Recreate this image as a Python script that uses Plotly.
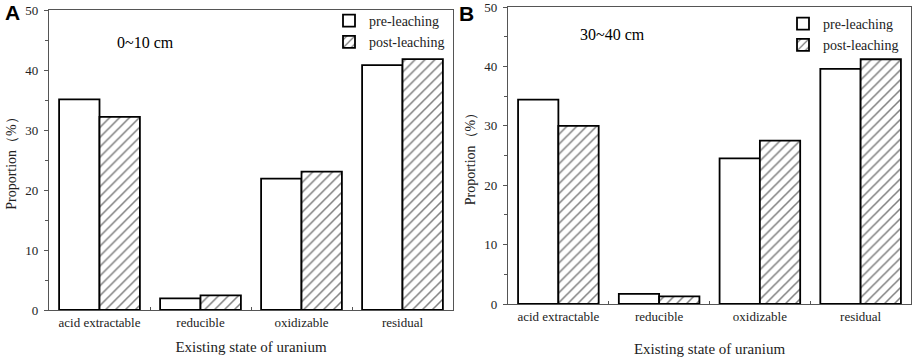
import plotly.graph_objects as go

categories = ["acid extractable", "reducible", "oxidizable", "residual"]
pre_a = [35.1, 1.95, 21.9, 40.8]
post_a = [32.2, 2.45, 23.05, 41.8]
pre_b = [34.4, 1.7, 24.5, 39.6]
post_b = [30.0, 1.3, 27.5, 41.2]
series_names = ["pre-leaching", "post-leaching"]
panel_titles = ["0~10 cm", "30~40 cm"]
y_ticks = [0, 10, 20, 30, 40, 50]

W, H = 913, 359
SERIF = "Liberation Serif"

fig = go.Figure()

def add_panel(pre, post, xa, ya, legend):
    fig.add_trace(go.Bar(
        x=categories, y=pre, name=series_names[0], xaxis=xa, yaxis=ya,
        marker=dict(color="white", line=dict(color="black", width=1.8)),
        legend=legend,
    ))
    fig.add_trace(go.Bar(
        x=categories, y=post, name=series_names[1], xaxis=xa, yaxis=ya,
        marker=dict(color="white", line=dict(color="black", width=1.8),
                    pattern=dict(shape="/", fgcolor="black", bgcolor="white",
                                 size=7, solidity=0.22)),
        legend=legend,
    ))

add_panel(pre_a, post_a, "x", "y", "legend")
add_panel(pre_b, post_b, "x2", "y2", "legend2")

def px_x(p):
    return p / W

def px_y(p):
    return 1 - p / H

def xaxis_style(standoff):
    return dict(type="category", showline=True, linecolor="#555", linewidth=1.3,
                mirror=True, ticks="inside", ticklen=3, tickcolor="#555",
                tickson="boundaries", showgrid=False, automargin=False,
                tickfont=dict(family=SERIF, size=13, color="#222"),
                title=dict(text="Existing state of uranium",
                           font=dict(family=SERIF, size=15, color="#222"),
                           standoff=standoff))

ycommon = dict(range=[0, 50], tickvals=y_ticks, showline=True, linecolor="#555",
               linewidth=1.3, mirror=True, ticks="outside", ticklen=4,
               tickcolor="#555", showgrid=False, zeroline=False, automargin=False,
               ticklabelstandoff=3, ticklabeloverflow="allow",
               minor=dict(dtick=5, ticks="outside", ticklen=3, tickcolor="#555"),
               tickfont=dict(family=SERIF, size=13, color="#222"),
               title=dict(text="Proportion（%）",
                          font=dict(family=SERIF, size=14, color="#222"),
                          standoff=5))

fig.update_layout(
    width=W, height=H,
    margin=dict(l=0, r=0, t=0, b=0),
    paper_bgcolor="white", plot_bgcolor="white",
    barmode="group", bargap=0.2, bargroupgap=0,
    xaxis=dict(domain=[px_x(49), px_x(453)], anchor="y", **xaxis_style(12)),
    yaxis=dict(domain=[px_y(310), px_y(10)], anchor="x", **ycommon),
    xaxis2=dict(domain=[px_x(508), px_x(911)], anchor="y2", **xaxis_style(20)),
    yaxis2=dict(domain=[px_y(304), px_y(7)], anchor="x2", **ycommon),
    legend=dict(x=px_x(329), y=px_y(5), xanchor="left", yanchor="top",
                bgcolor="rgba(0,0,0,0)", tracegroupgap=0,
                font=dict(family=SERIF, size=14, color="#222")),
    legend2=dict(x=px_x(783), y=px_y(8), xanchor="left", yanchor="top",
                 bgcolor="rgba(0,0,0,0)", tracegroupgap=0,
                 font=dict(family=SERIF, size=14, color="#222")),
    showlegend=True,
    annotations=[
        dict(text="A", x=px_x(3), y=px_y(12), xref="paper", yref="paper",
             xanchor="left", yanchor="middle", showarrow=False,
             font=dict(family="Liberation Sans", size=21,
                       color="black", weight="bold")),
        dict(text="B", x=px_x(457), y=px_y(14), xref="paper", yref="paper",
             xanchor="left", yanchor="middle", showarrow=False,
             font=dict(family="Liberation Sans", size=21,
                       color="black", weight="bold")),
        dict(text=panel_titles[0], x=px_x(115), y=px_y(43), xref="paper",
             yref="paper", xanchor="left", yanchor="middle", showarrow=False,
             font=dict(family=SERIF, size=16, color="black")),
        dict(text=panel_titles[1], x=px_x(578), y=px_y(34), xref="paper",
             yref="paper", xanchor="left", yanchor="middle", showarrow=False,
             font=dict(family=SERIF, size=16, color="black")),
    ],
)

fig.write_html("out.html", config={"displayModeBar": False},
               post_script="document.body.style.margin='0';document.body.style.overflow='hidden';")
